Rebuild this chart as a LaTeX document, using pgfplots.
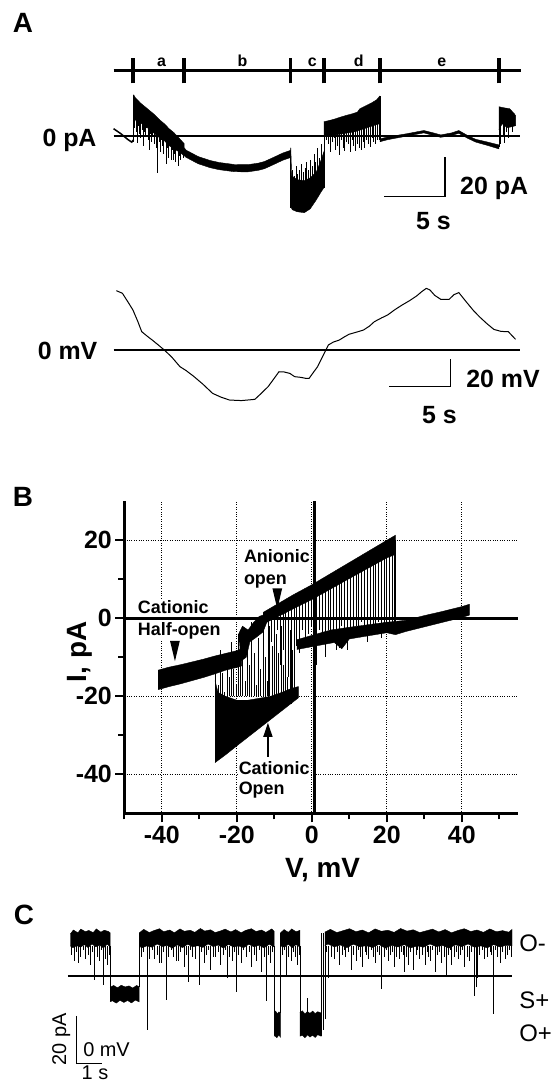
\documentclass[border=0pt]{standalone}
\usepackage{fontspec}
\setmainfont{Liberation Sans}
\usepackage{pgfplots}
\pgfplotsset{compat=1.18}
\usetikzlibrary{arrows.meta}

\newcommand{\fs}[1]{\fontsize{#1}{#1}\selectfont}

\pgfplotsset{
  band/.style={fill=black, draw=black, line width=0.4bp},
  spikes/.style={black, line width=0.7bp},
}

\begin{document}
\begin{tikzpicture}
\useasboundingbox (0,0) rectangle (555bp,-1085bp);

\node[font=\bfseries\fs{28}] at (23bp,-23bp) {A};
\node[font=\bfseries\fs{28}] at (23bp,-497bp) {B};
\node[font=\bfseries\fs{28}] at (24bp,-915bp) {C};

% ---------------- A, current
\begin{axis}[
  at={(113.6bp,-215.7bp)}, anchor=south west,
  scale only axis, width=410.4bp, height=160bp,
  xmin=0, xmax=34, ymin=-40, ymax=40,
  hide axis, clip=false, unbounded coords=jump,
]
\addplot[black, line width=3.5bp] coordinates {(0,32.5) (33.76,32.5)};
\addplot[black, line width=3.5bp] coordinates {(1.6,26.2)(1.6,38.7)(1.6,nan) (5.83,26.2)(5.83,38.7)(5.83,nan) (14.64,26.2)(14.64,38.7)(14.64,nan) (17.43,26.2)(17.43,38.7)(17.43,nan) (22.07,26.2)(22.07,38.7)(22.07,nan) (31.92,26.2)(31.92,38.7)};
\node[font=\bfseries\fs{16}, anchor=base] at (axis cs:3.97,34.8) {a};
\node[font=\bfseries\fs{16}, anchor=base] at (axis cs:10.68,34.8) {b};
\node[font=\bfseries\fs{16}, anchor=base] at (axis cs:16.47,34.8) {c};
\node[font=\bfseries\fs{16}, anchor=base] at (axis cs:20.3,34.8) {d};
\node[font=\bfseries\fs{16}, anchor=base] at (axis cs:27.2,34.8) {e};

\addplot[black, line width=1.5bp] coordinates {(0,3.5) (0.6,1) (1.2,-2) (1.5,-3.2) (1.66,-2)};
% a
\addplot[band] coordinates {(1.66,20.5) (1.8,19) (2.2,16.5) (2.6,14.5) (3.0,12.5) (3.4,10.5) (3.8,8) (4.2,6) (4.6,3.5) (5.0,1.5) (5.4,-1) (5.85,-4)
  (5.85,-10) (5.4,-8) (5.0,-6.5) (4.6,-5) (4.2,-2.5) (3.8,-1) (3.4,1) (3.0,3) (2.6,5) (2.2,6.5) (1.8,8) (1.66,5)};
% b
\addplot[band] coordinates {(5.85,-6) (6.0,-7.2) (7.0,-10.4) (8.0,-12.4) (8.75,-13.4) (10.0,-14.4) (11.1,-14.5) (12.0,-13.7) (12.5,-12.9) (13.3,-10.7) (14.0,-8.7) (14.62,-7.4)
  (14.62,-11) (14.0,-12.3) (13.3,-14.3) (12.5,-16.5) (12.0,-17.3) (11.1,-18.1) (10.0,-18.0) (8.75,-17.0) (8.0,-16.0) (7.0,-14.0) (6.0,-10.8) (5.85,-10)};
% c
\addplot[band] coordinates {(14.62,-9) (14.68,-6) (14.75,-20) (15.2,-22) (15.8,-22.5) (16.3,-21) (16.8,-18) (17.2,-12) (17.42,-8)
  (17.42,-26) (17.2,-28) (16.8,-32) (16.3,-36.5) (15.8,-38.5) (15.2,-38) (14.8,-37) (14.65,-35)};
% d
\addplot[band] coordinates {(17.42,7) (17.8,7.5) (18.3,8.3) (18.8,9.3) (19.3,10.2) (19.8,11) (20.2,11.8) (20.4,13.5) (20.9,15) (21.4,16.5) (21.8,18) (22.05,19.8)
  (22.05,6) (21.5,5) (21.0,4) (20.5,3) (20.0,2) (19.5,1.5) (19.0,1) (18.5,0.5) (18,0) (17.42,0)};
% e
\addplot[band] coordinates {(22.07,-1.6) (22.7,-0.6) (24.2,0.9) (25.7,2.6) (26.5,1.4) (27.1,0.4) (28.0,1.4) (28.6,2.6) (29.3,0.2) (30.0,-1.8) (31.0,-3.2) (31.92,-4.6)
  (31.92,-6.6) (31.0,-4.9) (30.0,-3.2) (29.3,-1.2) (28.6,1.2) (28.0,0.1) (27.1,-0.8) (26.5,0.1) (25.7,1.4) (24.2,-0.3) (22.7,-2.0) (22.07,-3.0)};
\addplot[band] coordinates {(31.92,14.5) (32.3,14) (32.8,13.5) (33.2,11) (33.3,10) (33.3,5) (33.0,4.5) (32.6,4) (32.2,6) (31.92,3)};
\addplot[spikes] coordinates {
  (1.66,-3)(1.66,20.5)(1.66,nan) (14.62,-9)(14.62,-36)(14.62,nan) (17.42,-26)(17.42,7)(17.42,nan)
  (22.07,19.8)(22.07,-3)(22.07,nan) (31.92,-5.5)(31.92,14.5)(31.92,nan)
  (1.75,19)(1.75,4)(1.75,nan) (1.85,18)(1.85,2)(1.85,nan) (1.95,17)(1.95,-3.5)(1.95,nan)
  (2.05,17)(2.05,5)(2.05,nan) (2.15,16)(2.15,1)(2.15,nan) (2.25,16)(2.25,-1)(2.25,nan)
  (2.35,15)(2.35,3)(2.35,nan) (2.45,15)(2.45,-5)(2.45,nan) (2.55,14)(2.55,2)(2.55,nan)
  (2.65,14)(2.65,0)(2.65,nan) (2.75,13)(2.75,4)(2.75,nan) (2.85,13)(2.85,-2)(2.85,nan)
  (2.95,12)(2.95,-7)(2.95,nan) (3.05,12)(3.05,1)(3.05,nan) (3.15,11)(3.15,-3)(3.15,nan)
  (3.25,11)(3.25,0)(3.25,nan) (3.35,10)(3.35,-4)(3.35,nan) (3.45,10)(3.45,2)(3.45,nan)
  (3.55,9)(3.55,-6)(3.55,nan) (3.65,8)(3.65,-18.5)(3.65,nan) (3.75,8)(3.75,-3)(3.75,nan)
  (3.85,7)(3.85,-8)(3.85,nan) (3.95,7)(3.95,-2)(3.95,nan) (4.05,6)(4.05,-5)(4.05,nan)
  (4.15,6)(4.15,-9)(4.15,nan) (4.25,5)(4.25,-3)(4.25,nan) (4.35,5)(4.35,-14)(4.35,nan)
  (4.45,4)(4.45,-6)(4.45,nan) (4.55,3)(4.55,-11)(4.55,nan) (4.65,3)(4.65,-4)(4.65,nan)
  (4.75,2)(4.75,-12)(4.75,nan) (4.85,2)(4.85,-7)(4.85,nan) (4.95,1)(4.95,-12)(4.95,nan)
  (5.05,1)(5.05,-9)(5.05,nan) (5.15,0)(5.15,-13)(5.15,nan) (5.25,0)(5.25,-6)(5.25,nan)
  (5.35,-1)(5.35,-15)(5.35,nan) (5.45,-2)(5.45,-10)(5.45,nan) (5.55,-2)(5.55,-12)(5.55,nan)
  (5.65,-3)(5.65,-8)(5.65,nan) (5.75,-4)(5.75,-11)(5.75,nan)
  (14.8,-30)(14.8,-17)(14.8,nan) (14.95,-30)(14.95,-20)(14.95,nan) (15.1,-30)(15.1,-15)(15.1,nan)
  (15.25,-30)(15.25,-19)(15.25,nan) (15.4,-30)(15.4,-17)(15.4,nan) (15.55,-30)(15.55,-14)(15.55,nan)
  (15.7,-30)(15.7,-18)(15.7,nan) (15.85,-30)(15.85,-16)(15.85,nan) (16.0,-30)(16.0,-13)(16.0,nan)
  (16.15,-30)(16.15,-17)(16.15,nan) (16.3,-30)(16.3,-12)(16.3,nan) (16.45,-30)(16.45,-15)(16.45,nan)
  (16.6,-28)(16.6,-9)(16.6,nan) (16.75,-28)(16.75,-13)(16.75,nan) (16.9,-26)(16.9,-6)(16.9,nan)
  (17.05,-26)(17.05,-11)(17.05,nan) (17.2,-24)(17.2,-4)(17.2,nan)
  (17.5,2)(17.5,-6)(17.5,nan) (17.65,2)(17.65,-2)(17.65,nan) (17.8,2)(17.8,-4)(17.8,nan)
  (17.95,2)(17.95,-8)(17.95,nan) (18.1,2)(18.1,-3)(18.1,nan) (18.25,2)(18.25,-1)(18.25,nan)
  (18.4,2.5)(18.4,-7)(18.4,nan) (18.55,2.5)(18.55,-5)(18.55,nan) (18.7,3)(18.7,-9.5)(18.7,nan)
  (18.85,3)(18.85,-2)(18.85,nan) (19.0,3)(19.0,-6)(19.0,nan) (19.15,3)(19.15,-7.5)(19.15,nan)
  (19.3,3.5)(19.3,-3)(19.3,nan) (19.45,3.5)(19.45,-4)(19.45,nan) (19.6,3.5)(19.6,-8)(19.6,nan)
  (19.75,4)(19.75,-2)(19.75,nan) (19.9,4)(19.9,-5)(19.9,nan) (20.05,4)(20.05,-7.5)(20.05,nan)
  (20.2,4.5)(20.2,-4)(20.2,nan) (20.35,4.5)(20.35,-6)(20.35,nan) (20.5,5)(20.5,-7.2)(20.5,nan)
  (20.65,5)(20.65,-3)(20.65,nan) (20.8,5.5)(20.8,-6)(20.8,nan) (20.95,6)(20.95,-2)(20.95,nan)
  (21.1,6)(21.1,-4)(21.1,nan) (21.25,6.5)(21.25,-5.5)(21.25,nan) (21.4,6.5)(21.4,-1)(21.4,nan)
  (21.55,7)(21.55,-3)(21.55,nan) (21.7,7)(21.7,-4)(21.7,nan) (21.85,7.5)(21.85,-2)(21.85,nan)
  (22.0,8)(22.0,-2)(22.0,nan)
  (32.05,8)(32.05,-4)(32.05,nan) (32.25,8)(32.25,0)(32.25,nan) (32.4,8)(32.4,-3.5)(32.4,nan)
  (32.55,8)(32.55,2)(32.55,nan) (32.7,8)(32.7,-1)(32.7,nan) (33.0,7)(33.0,2)};
\addplot[black, line width=1.6bp] coordinates {(0,0) (33.7,0)};
\node[font=\bfseries\fs{25}, anchor=base east, inner sep=0] at (axis cs:-1.4,-5.4) {0 pA};
\addplot[black, line width=1.5bp] coordinates {(22.44,-30.5) (27.44,-30.5) (27.44,-10.5)};
\node[font=\bfseries\fs{25}, anchor=base west, inner sep=0] at (axis cs:28.7,-29.2) {20 pA};
\node[font=\bfseries\fs{25}, anchor=base, inner sep=0] at (axis cs:26.5,-46.8) {5 s};
\end{axis}

% ---------------- A, voltage
\begin{axis}[
  at={(113.6bp,-418.35bp)}, anchor=south west,
  scale only axis, width=410.4bp, height=136.7bp,
  xmin=0, xmax=34, ymin=-50, ymax=50,
  hide axis, clip=false,
]
\addplot[black, line width=1bp] coordinates {
  (0.23,43.4) (0.73,41.5) (1.2,35) (1.6,29.3) (2.0,21) (2.33,13.4) (2.8,10) (3.2,7.3) (3.7,3.7)
  (4.2,0) (4.8,-5) (5.5,-12.2) (6.0,-15) (6.6,-19) (7.4,-25) (8.2,-31.7) (8.9,-34.5) (9.6,-36.6)
  (10.6,-37) (11.7,-36.1) (12.2,-32) (12.8,-26.8) (13.2,-22) (13.7,-15.9) (14.1,-16) (14.6,-17.1)
  (15.0,-19.5) (15.5,-20) (15.9,-20.7) (16.2,-20.7) (16.5,-17) (16.9,-12.2) (17.3,-5) (17.8,3.7)
  (18.2,5.8) (18.7,7.3) (19.1,9.5) (19.5,11.5) (20.1,13) (20.7,14.6) (21.2,17.5) (21.6,20.7)
  (22.2,23.5) (22.7,25.6) (23.3,29.5) (23.9,32.9) (24.5,36) (25.1,39.5) (25.5,42.5) (25.9,45.1)
  (26.2,44) (26.6,40) (27.1,37.1) (27.8,37.1) (28.2,40.5) (28.6,42) (29.2,35.4) (29.8,29)
  (30.3,24.4) (30.9,19.5) (31.5,15.1) (32.1,13.6) (32.7,13.4) (33.3,7.8)};
\addplot[black, line width=1.6bp] coordinates {(0,0) (33.7,0)};
\node[font=\bfseries\fs{25}, anchor=base east, inner sep=0] at (axis cs:-1.33,-7.3) {0 mV};
\addplot[black, line width=1.5bp] coordinates {(22.85,-26.8) (27.9,-26.8) (27.9,-6.8)};
\node[font=\bfseries\fs{25}, anchor=base west, inner sep=0] at (axis cs:29.2,-27.3) {20 mV};
\node[font=\bfseries\fs{25}, anchor=base, inner sep=0] at (axis cs:27.0,-53.6) {5 s};
\end{axis}

% ---------------- B, I-V
\begin{axis}[
  at={(124.3bp,-813.3bp)}, anchor=south west,
  scale only axis, width=393.75bp, height=312bp,
  xmin=-50, xmax=55, ymin=-50, ymax=30,
  axis x line*=bottom, axis y line*=left,
  axis line style={-, line width=2.5bp},
  xtick={-40,-20,0,20,40}, xticklabels={-40,-20,0,20,40},
  minor xtick={-50,-30,-10,10,30,50},
  ytick={-40,-20,0,20}, yticklabels={-40,-20,0,20},
  minor ytick={-30,-10,10},
  tick align=outside, major tick length=9bp, minor tick length=6bp,
  tick style={black, line width=2bp},
  grid=major, major grid style={black, dotted, line width=0.8bp},
  tick label style={font=\bfseries\fs{25}},
  clip=false, unbounded coords=jump,
]
\node[font=\bfseries\fs{18}, anchor=base west, fill=white, inner sep=1bp] at (axis cs:-18.4,14.3) {Anionic};
\node[font=\bfseries\fs{18}, anchor=base west, fill=white, inner sep=1bp] at (axis cs:-18.4,8.7) {open};
\node[font=\bfseries\fs{18}, anchor=base west, fill=white, inner sep=1bp] at (axis cs:-46.7,1.2) {Cationic};
\node[font=\bfseries\fs{18}, anchor=base west, fill=white, inner sep=1bp] at (axis cs:-46.7,-4.5) {Half-open};
\node[font=\bfseries\fs{18}, anchor=base west, fill=white, inner sep=1bp] at (axis cs:-19.8,-40) {Cationic};
\node[font=\bfseries\fs{18}, anchor=base west, fill=white, inner sep=1bp] at (axis cs:-19.8,-45.1) {Open};
\addplot[black, line width=3bp] coordinates {(-50,0) (55,0)};
\addplot[black, line width=3bp] coordinates {(0.6,-50) (0.6,30)};
% cationic half-open
\addplot[band] coordinates {(-41,-13.3) (-38,-12.5) (-35,-11.9) (-32,-11.2) (-29,-10.5) (-26,-9.7) (-23,-9) (-20,-8.3) (-18.7,-7.8)
  (-18.7,-12.2) (-20,-12.6) (-23,-13.3) (-26,-14.3) (-29,-15.2) (-32,-16) (-35,-16.8) (-38,-17.5) (-41,-18.3)};
% cationic open
\addplot[band] coordinates {(-25.8,-16) (-25,-19) (-23,-20) (-20,-21) (-17,-21) (-14,-20.5) (-11,-20) (-8,-19) (-5.5,-18) (-3.6,-17.5)
  (-3.6,-20.4) (-8,-23.7) (-12,-26.7) (-16,-29.7) (-20,-32.7) (-23,-35) (-25.8,-37)};
% transition cluster
\addplot[band] coordinates {(-19.5,-4) (-18.5,-2) (-17,-3) (-15.5,-1) (-14,0.5) (-12.5,1) (-12,-1) (-13,-3.5) (-15,-5) (-16.5,-6) (-17.5,-10) (-19,-11)};
% anionic open
\addplot[band] coordinates {(-13,1.5) (-5,6) (0,8.6) (10,14.3) (20,20) (22.3,21.3)
  (22.3,16.4) (20,15.5) (10,10.2) (0,4.8) (-5,2.4) (-13,-1.5)};
% closed
\addplot[band] coordinates {(-4,-5.5) (5,-3) (10,-2.3) (20,-1) (22.3,-0.8) (25,-0.5) (30,0.7) (35,1.8) (40,3) (42,3.6)
  (42,0.8) (40,0.2) (35,-1) (30,-2.2) (25,-3.4) (22.3,-4.2) (20,-3.7) (10,-5.3) (8,-7.8) (6,-6.2) (-4,-8)};
\addplot[spikes] coordinates {
  (22.3,20)(22.3,-3.5)(22.3,nan) (21.9,18)(21.9,-2)(21.9,nan) (-19,-12)(-19,-3)(-19,nan)
  (-11.5,0.2)(-11.5,-20)(-11.5,nan) (-10.8,0.6)(-10.8,-6)(-10.8,nan) (-10,1)(-10,-20)(-10,nan)
  (-9.2,1.3)(-9.2,-3)(-9.2,nan) (-8.5,1.7)(-8.5,-12)(-8.5,nan) (-7.7,2.1)(-7.7,-8)(-7.7,nan)
  (-7,2.4)(-7,-5)(-7,nan) (-6.2,2.8)(-6.2,-15)(-6.2,nan) (-5.5,3.1)(-5.5,-22)(-5.5,nan)
  (-4.7,3.5)(-4.7,-4)(-4.7,nan) (-4,3.9)(-4,-7)(-4,nan) (-3.2,4.2)(-3.2,-9)(-3.2,nan)
  (-2.5,4.6)(-2.5,-3)(-2.5,nan) (-1.7,5)(-1.7,-6)(-1.7,nan) (-1,5.3)(-1,-4)(-1,nan)
  (-0.2,5.7)(-0.2,-2)(-0.2,nan) (0.5,6.1)(0.5,-5)(0.5,nan) (1.3,6.5)(1.3,-12)(1.3,nan)
  (2,6.9)(2,-3)(2,nan) (2.8,7.3)(2.8,-6)(2.8,nan) (3.5,7.7)(3.5,-10)(3.5,nan)
  (4.3,8.1)(4.3,-3)(4.3,nan) (5,8.5)(5,-5)(5,nan) (5.8,8.9)(5.8,-4)(5.8,nan)
  (6.5,9.3)(6.5,-8)(6.5,nan) (7.3,9.7)(7.3,-7.5)(7.3,nan) (8,10.1)(8,-2)(8,nan)
  (8.8,10.5)(8.8,-4)(8.8,nan) (9.5,10.9)(9.5,-8)(9.5,nan) (10.3,11.3)(10.3,-3)(10.3,nan)
  (11,11.7)(11,-5)(11,nan) (11.8,12.1)(11.8,-2)(11.8,nan) (12.5,12.5)(12.5,-3)(12.5,nan)
  (13.3,12.9)(13.3,-1)(13.3,nan) (14,13.3)(14,-2)(14,nan) (14.8,13.7)(14.8,-6)(14.8,nan)
  (15.5,14.1)(15.5,-4)(15.5,nan) (16.3,14.5)(16.3,-2)(16.3,nan) (17,14.9)(17,-3)(17,nan)
  (17.8,15.3)(17.8,-1)(17.8,nan) (18.5,15.7)(18.5,-5)(18.5,nan) (19.3,16.1)(19.3,-2)(19.3,nan)
  (20,16.5)(20,-1)(20,nan) (20.8,16.9)(20.8,-3)(20.8,nan) (21.5,17.3)(21.5,-2)(21.5,nan)
  (-25.6,-20)(-25.6,-11)(-25.6,nan) (-25,-20)(-25,-17)(-25,nan) (-24.4,-20)(-24.4,-8)(-24.4,nan)
  (-23.8,-20)(-23.8,-14)(-23.8,nan) (-23.2,-20)(-23.2,-19)(-23.2,nan) (-22.6,-20)(-22.6,-10)(-22.6,nan)
  (-22,-20)(-22,-15)(-22,nan) (-21.4,-20)(-21.4,-6)(-21.4,nan) (-20.8,-20)(-20.8,-13)(-20.8,nan)
  (-20.2,-20)(-20.2,-17)(-20.2,nan) (-19.6,-20)(-19.6,-4)(-19.6,nan) (-19,-20)(-19,-11)(-19,nan)
  (-18.4,-20)(-18.4,-2)(-18.4,nan) (-17.8,-20)(-17.8,-16)(-17.8,nan) (-17.2,-20)(-17.2,-8)(-17.2,nan)
  (-16.6,-20)(-16.6,-12)(-16.6,nan) (-16,-20)(-16,-1)(-16,nan) (-15.4,-20)(-15.4,-9)(-15.4,nan)
  (-14.8,-20)(-14.8,-17)(-14.8,nan) (-14.2,-20)(-14.2,-5)(-14.2,nan) (-13.6,-20)(-13.6,-13)(-13.6,nan)
  (-13,-20)(-13,-3)(-13,nan) (-12.4,-20)(-12.4,-10)(-12.4,nan) (-11.8,-20)(-11.8,-16)(-11.8,nan)
  (-11.2,-20)(-11.2,-2)(-11.2,nan) (-10.6,-20)(-10.6,-7)(-10.6,nan) (-10,-20)(-10,-14)(-10,nan)
  (-9.4,-20)(-9.4,-4)(-9.4,nan) (-8.8,-20)(-8.8,-9)(-8.8,nan) (-8.2,-20)(-8.2,-2)(-8.2,nan)
  (-7.6,-20)(-7.6,-12)(-7.6,nan) (-7,-20)(-7,-5)(-7,nan) (-6.4,-20)(-6.4,-15)(-6.4,nan)
  (-5.8,-20)(-5.8,-3)(-5.8,nan) (-5.2,-20)(-5.2,-8)(-5.2,nan) (-4.6,-20)(-4.6,-2)};
\fill (axis cs:-10.5,7.7) -- (axis cs:-7.9,7.7) -- (axis cs:-9.2,2.4) -- cycle;
\fill (axis cs:-37.8,-5.8) -- (axis cs:-35.2,-5.8) -- (axis cs:-36.5,-11) -- cycle;
\draw[line width=1.5bp, -{Triangle[width=9bp,length=14bp]}] (axis cs:-11.7,-35.5) -- (axis cs:-11.7,-26.8);
\end{axis}
\node[font=\bfseries\fs{28}] at (322.5bp,-870bp) {V, mV};
\node[font=\bfseries\fs{28}, rotate=90] at (80bp,-652bp) {I, pA};

% ---------------- C, single channel
\begin{axis}[
  at={(70.3bp,-1083.5bp)}, anchor=south west,
  scale only axis, width=441.7bp, height=172bp,
  xmin=0, xmax=17.32, ymin=-50, ymax=30,
  hide axis, clip=false, unbounded coords=jump,
]
\addplot[band] coordinates {(0,19.5)(0.12,21.4)(0.3,20.1)(0.41,21.8)(0.6,20.6)(0.72,21.2)(0.9,20.2)(1.02,21.9)(1.2,20.4)(1.33,21.3)(1.5,20.7)(1.56,20.1)
  (1.56,13.5)(1.45,14.8)(1.3,13.1)(1.15,14.3)(1.0,13.6)(0.85,14.9)(0.7,13.2)(0.55,14.6)(0.4,13.4)(0.25,14.1)(0.1,13.2)(0,14)};
\addplot[band] coordinates {(1.56,-5.2)(1.7,-4.4)(1.85,-5.5)(2.0,-4.3)(2.15,-5.1)(2.3,-4.6)(2.45,-5.6)(2.6,-4.4)(2.7,-5)
  (2.7,-12)(2.55,-11.2)(2.4,-12.5)(2.25,-11.4)(2.1,-12.3)(1.95,-11.3)(1.8,-12.6)(1.65,-11.5)(1.56,-12)};
\addplot[band] coordinates {(2.7,20)(2.88,21.7)(3.1,20.2)(3.27,21.1)(3.5,22.0)(3.66,20.6)(3.9,21.4)(4.08,20.1)(4.3,21.9)(4.47,20.8)(4.7,21.3)(4.88,20.3)(5.1,22.1)(5.27,20.9)(5.5,21.5)(5.68,20.2)(5.9,21.0)(6.07,21.8)(6.3,20.5)(6.48,21.6)(6.7,20.1)(6.87,21.2)(7.1,22.0)(7.28,20.7)(7.5,21.4)(7.67,20.3)(7.9,21.9)(7.99,20.8)
  (7.99,13.5)(7.8,14.8)(7.6,13.1)(7.4,14.3)(7.2,13.6)(7.0,14.8)(6.8,13.2)(6.6,14.0)(6.4,13.5)(6.2,14.7)(6.0,13.0)(5.8,14.4)(5.6,13.7)(5.4,14.9)(5.2,13.3)(5.0,14.1)(4.8,13.6)(4.6,14.8)(4.4,13.2)(4.2,14.5)(4.0,13.0)(3.8,14.2)(3.6,13.7)(3.4,14.9)(3.2,13.4)(3.0,14.0)(2.8,13.1)(2.7,14)};
\addplot[band] coordinates {(7.99,-17)(8.05,-16.3)(8.12,-17.6)(8.18,-16.7)(8.24,-17.2)
  (8.24,-28.5)(8.18,-27.4)(8.1,-28.7)(8.02,-27.7)(7.99,-28)};
\addplot[band] coordinates {(8.24,20)(8.38,21.6)(8.55,20.3)(8.68,21.9)(8.85,20.6)(9.0,21.2)
  (9.0,13.5)(8.85,14.6)(8.7,13.2)(8.55,14.8)(8.4,13.4)(8.24,14)};
\addplot[band] coordinates {(9.0,-17)(9.1,-16.2)(9.2,-17.6)(9.3,-16.5)(9.4,-17.4)(9.5,-16.3)(9.6,-17.5)(9.7,-16.6)(9.84,-17.2)
  (9.84,-28)(9.7,-27.3)(9.6,-28.6)(9.5,-27.5)(9.4,-28.4)(9.3,-27.4)(9.2,-28.7)(9.1,-27.6)(9.0,-28)};
\addplot[band] coordinates {(9.98,20.4)(10.2,21.7)(10.45,20.2)(10.7,21.1)(10.95,22.0)(11.2,20.6)(11.45,21.4)(11.7,20.1)(11.95,21.9)(12.2,20.8)(12.45,21.3)(12.7,20.3)(12.95,22.1)(13.2,20.9)(13.45,21.5)(13.7,20.2)(13.95,21.0)(14.2,21.8)(14.45,20.5)(14.7,21.6)(14.95,20.1)(15.2,21.2)(15.45,22.0)(15.7,20.7)(15.95,21.4)(16.2,20.3)(16.45,21.9)(16.7,20.6)(16.95,21.1)(17.2,20.4)(17.32,21.7)
  (17.32,14.0)(17.1,14.3)(16.85,13.5)(16.6,14.6)(16.35,13.1)(16.1,14.0)(15.85,13.4)(15.6,14.9)(15.35,13.7)(15.1,14.5)(14.85,13.0)(14.6,14.2)(14.35,13.7)(14.1,14.9)(13.85,13.4)(13.6,14.0)(13.35,13.1)(13.1,14.6)(12.85,13.5)(12.6,14.3)(12.35,13.0)(12.1,14.7)(11.85,13.3)(11.6,14.1)(11.35,13.6)(11.1,14.8)(10.85,13.2)(10.6,14.4)(10.35,13.6)(10.1,14.9)(9.98,14)};
\addplot[black, line width=0.55bp] coordinates {
  (1.56,14)(1.56,-5)(1.56,nan) (2.7,-5)(2.7,20)(2.7,nan) (7.99,14)(7.99,-17)(7.99,nan)
  (8.24,-17)(8.24,20)(8.24,nan) (9.0,14)(9.0,-17)(9.0,nan) (9.84,-28)(9.84,20)(9.84,nan)
  (9.9,-25)(9.9,20)(9.9,nan) (9.98,-20)(9.98,20)(9.98,nan) (9.3,-17)(9.3,-10)(9.3,nan)
  (0.05,14)(0.05,10)(0.05,nan) (0.14,14)(0.14,7)(0.14,nan) (0.22,14)(0.22,11)(0.22,nan)
  (0.33,14)(0.33,6)(0.33,nan) (0.41,14)(0.41,9)(0.41,nan) (0.52,14)(0.52,12)(0.52,nan)
  (0.6,14)(0.6,8)(0.6,nan) (0.7,14)(0.7,10)(0.7,nan) (0.79,14)(0.79,5)(0.79,nan)
  (0.88,14)(0.88,11)(0.88,nan) (0.95,14)(0.95,-2)(0.95,nan) (1.05,14)(1.05,9)(1.05,nan)
  (1.13,14)(1.13,7)(1.13,nan) (1.22,14)(1.22,12)(1.22,nan) (1.3,14)(1.3,-4)(1.3,nan)
  (1.38,14)(1.38,8)(1.38,nan) (1.45,14)(1.45,5)(1.45,nan) (1.52,14)(1.52,10)(1.52,nan)
  (2.78,14)(2.78,9)(2.78,nan) (2.88,14)(2.88,11)(2.88,nan) (3.02,14)(3.02,-25)(3.02,nan)
  (3.1,14)(3.1,8)(3.1,nan) (3.2,14)(3.2,12)(3.2,nan) (3.3,14)(3.3,8)(3.3,nan)
  (3.4,14)(3.4,10)(3.4,nan) (3.48,14)(3.48,6)(3.48,nan) (3.55,14)(3.55,6)(3.55,nan)
  (3.66,14)(3.66,11)(3.66,nan) (3.78,14)(3.78,-11)(3.78,nan) (3.86,14)(3.86,9)(3.86,nan)
  (3.95,14)(3.95,12)(3.95,nan) (4.05,14)(4.05,9)(4.05,nan) (4.14,14)(4.14,7)(4.14,nan)
  (4.25,14)(4.25,7)(4.25,nan) (4.33,14)(4.33,11)(4.33,nan) (4.45,14)(4.45,4)(4.45,nan)
  (4.53,14)(4.53,10)(4.53,nan) (4.62,14)(4.62,-3)(4.62,nan) (4.72,14)(4.72,12)(4.72,nan)
  (4.8,14)(4.8,9)(4.8,nan) (4.9,14)(4.9,8)(4.9,nan) (5.04,14)(5.04,-4)(5.04,nan)
  (5.12,14)(5.12,11)(5.12,nan) (5.25,14)(5.25,6)(5.25,nan) (5.33,14)(5.33,10)(5.33,nan)
  (5.42,14)(5.42,12)(5.42,nan) (5.5,14)(5.5,3)(5.5,nan) (5.6,14)(5.6,9)(5.6,nan)
  (5.7,14)(5.7,9)(5.7,nan) (5.8,14)(5.8,11)(5.8,nan) (5.9,14)(5.9,5)(5.9,nan)
  (6.0,14)(6.0,10)(6.0,nan) (6.08,14)(6.08,12)(6.08,nan) (6.15,14)(6.15,-1)(6.15,nan)
  (6.25,14)(6.25,9)(6.25,nan) (6.35,14)(6.35,7)(6.35,nan) (6.42,14)(6.42,11)(6.42,nan)
  (6.5,14)(6.5,-7.3)(6.5,nan) (6.6,14)(6.6,10)(6.6,nan) (6.7,14)(6.7,6)(6.7,nan)
  (6.8,14)(6.8,12)(6.8,nan) (6.9,14)(6.9,9)(6.9,nan) (7.0,14)(7.0,11)(7.0,nan)
  (7.1,14)(7.1,4)(7.1,nan) (7.2,14)(7.2,10)(7.2,nan) (7.3,14)(7.3,7)(7.3,nan)
  (7.4,14)(7.4,12)(7.4,nan) (7.5,14)(7.5,2)(7.5,nan) (7.6,14)(7.6,9)(7.6,nan)
  (7.69,14)(7.69,-11.8)(7.69,nan) (7.78,14)(7.78,10)(7.78,nan) (7.85,14)(7.85,6)(7.85,nan)
  (7.93,14)(7.93,11)(7.93,nan)
  (8.3,14)(8.3,10)(8.3,nan) (8.38,14)(8.38,12)(8.38,nan) (8.45,14)(8.45,-0.5)(8.45,nan)
  (8.55,14)(8.55,9)(8.55,nan) (8.65,14)(8.65,7)(8.65,nan) (8.75,14)(8.75,11)(8.75,nan)
  (8.82,14)(8.82,9)(8.82,nan) (8.9,14)(8.9,5)(8.9,nan) (8.96,14)(8.96,10)(8.96,nan)
  (10.05,14)(10.05,11)(10.05,nan) (10.12,14)(10.12,-1)(10.12,nan) (10.22,14)(10.22,9)(10.22,nan)
  (10.35,14)(10.35,8)(10.35,nan) (10.45,14)(10.45,11)(10.45,nan) (10.55,14)(10.55,5)(10.55,nan)
  (10.65,14)(10.65,10)(10.65,nan) (10.73,14)(10.73,12)(10.73,nan) (10.8,14)(10.8,9)(10.8,nan)
  (10.9,14)(10.9,11)(10.9,nan) (11.0,14)(11.0,3)(11.0,nan) (11.1,14)(11.1,10)(11.1,nan)
  (11.2,14)(11.2,7)(11.2,nan) (11.3,14)(11.3,12)(11.3,nan) (11.38,14)(11.38,9)(11.38,nan)
  (11.45,14)(11.45,4)(11.45,nan) (11.55,14)(11.55,11)(11.55,nan) (11.62,14)(11.62,10)(11.62,nan)
  (11.7,14)(11.7,8)(11.7,nan) (11.8,14)(11.8,12)(11.8,nan) (11.88,14)(11.88,9)(11.88,nan)
  (11.95,14)(11.95,6)(11.95,nan) (12.05,14)(12.05,11)(12.05,nan) (12.12,14)(12.12,10)(12.12,nan)
  (12.21,14)(12.21,-6.2)(12.21,nan) (12.3,14)(12.3,9)(12.3,nan) (12.38,14)(12.38,12)(12.38,nan)
  (12.45,14)(12.45,7)(12.45,nan) (12.55,14)(12.55,10)(12.55,nan) (12.62,14)(12.62,11)(12.62,nan)
  (12.7,14)(12.7,4)(12.7,nan) (12.8,14)(12.8,9)(12.8,nan) (12.9,14)(12.9,8)(12.9,nan)
  (12.98,14)(12.98,11)(12.98,nan) (13.05,14)(13.05,10)(13.05,nan) (13.1,14)(13.1,2)(13.1,nan)
  (13.18,14)(13.18,9)(13.18,nan) (13.25,14)(13.25,5)(13.25,nan) (13.35,14)(13.35,11)(13.35,nan)
  (13.45,14)(13.45,3)(13.45,nan) (13.55,14)(13.55,10)(13.55,nan) (13.62,14)(13.62,12)(13.62,nan)
  (13.7,14)(13.7,8)(13.7,nan) (13.8,14)(13.8,10)(13.8,nan) (13.9,14)(13.9,5)(13.9,nan)
  (13.98,14)(13.98,11)(13.98,nan) (14.05,14)(14.05,9)(14.05,nan) (14.1,14)(14.1,7)(14.1,nan)
  (14.2,14)(14.2,12)(14.2,nan) (14.3,14)(14.3,2)(14.3,nan) (14.38,14)(14.38,10)(14.38,nan)
  (14.46,14)(14.46,11)(14.46,nan) (14.55,14)(14.55,6)(14.55,nan) (14.65,14)(14.65,9)(14.65,nan)
  (14.74,14)(14.74,0)(14.74,nan) (14.82,14)(14.82,10)(14.82,nan) (14.9,14)(14.9,12)(14.9,nan)
  (14.95,14)(14.95,5)(14.95,nan) (15.05,14)(15.05,9)(15.05,nan) (15.12,14)(15.12,11)(15.12,nan)
  (15.2,14)(15.2,8)(15.2,nan) (15.3,14)(15.3,10)(15.3,nan) (15.38,14)(15.38,12)(15.38,nan)
  (15.45,14)(15.45,4)(15.45,nan) (15.55,14)(15.55,9)(15.55,nan) (15.65,14)(15.65,7)(15.65,nan)
  (15.72,14)(15.72,11)(15.72,nan) (15.83,14)(15.83,-9.3)(15.83,nan) (15.9,14)(15.9,-5)(15.9,nan)
  (15.97,14)(15.97,-1)(15.97,nan) (16.05,14)(16.05,10)(16.05,nan) (16.15,14)(16.15,12)(16.15,nan)
  (16.25,14)(16.25,8)(16.25,nan) (16.35,14)(16.35,9)(16.35,nan) (16.45,14)(16.45,11)(16.45,nan)
  (16.52,14)(16.52,10)(16.52,nan) (16.6,14)(16.6,-17.5)(16.6,nan) (16.68,14)(16.68,12)(16.68,nan)
  (16.75,14)(16.75,9)(16.75,nan) (16.85,14)(16.85,6)(16.85,nan) (16.95,14)(16.95,11)(16.95,nan)
  (17.05,14)(17.05,8)(17.05,nan) (17.12,14)(17.12,10)(17.12,nan) (17.22,14)(17.22,12)(17.22,nan)
  (17.28,14)(17.28,9)};
\addplot[black, line width=1.5bp] coordinates {(-0.1,0) (17.32,0)};
\node[font=\fs{24}, anchor=west, inner sep=0] at (axis cs:17.6,15.3) {O-};
\node[font=\fs{24}, anchor=west, inner sep=0] at (axis cs:17.6,-11.2) {S+};
\node[font=\fs{24}, anchor=west, inner sep=0] at (axis cs:17.6,-26.5) {O+};
\addplot[black, line width=1bp] coordinates {(0.26,-18.5) (0.26,-40.5) (1.24,-40.5)};
\node[font=\fs{20}, rotate=90, inner sep=0] at (axis cs:-0.36,-29.5) {20 pA};
\node[font=\fs{20}, anchor=base west, inner sep=0] at (axis cs:0.5,-37.3) {0 mV};
\node[font=\fs{20}, anchor=base, inner sep=0] at (axis cs:0.97,-48.2) {1 s};
\end{axis}
\end{tikzpicture}
\end{document}
